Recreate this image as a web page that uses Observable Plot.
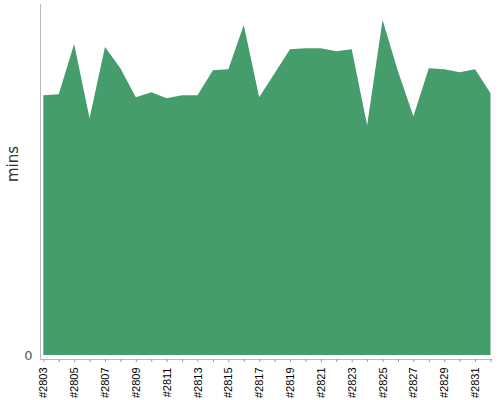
<!DOCTYPE html>
<html><head><meta charset="utf-8">
<script src="https://cdn.jsdelivr.net/npm/d3@7"></script>
<script src="https://cdn.jsdelivr.net/npm/@observablehq/plot@0.6"></script>
<style>body{margin:0;background:#fff;font-family:"DejaVu Sans",sans-serif}</style>
</head><body><div id="chart"></div>
<script>
const builds = ["#2803","#2804","#2805","#2806","#2807","#2808","#2809","#2810","#2811","#2812","#2813","#2814","#2815","#2816","#2817","#2818","#2819","#2820","#2821","#2822","#2823","#2824","#2825","#2826","#2827","#2828","#2829","#2830","#2831","#2832"];
const mins = [25.9,26.0,31.0,23.6,30.7,28.6,25.7,26.2,25.6,25.9,25.9,28.4,28.5,32.9,25.7,28.1,30.5,30.6,30.6,30.3,30.5,22.9,33.4,28.3,23.8,28.6,28.5,28.2,28.5,26.1];
const yMax = 35;
const data = builds.map((b, i) => ({build: b, mins: mins[i]}));
const labelled = builds.filter((b, i) => i % 2 === 0);

const chart = Plot.plot({
  width: 500, height: 400,
  marginTop: 4, marginLeft: 40, marginRight: 9, marginBottom: 41,
  style: {fontFamily: "DejaVu Sans, sans-serif", fontSize: "10px", color: "#000"},
  x: {type: "point", domain: builds, padding: 0, round: false, insetLeft: 3.3, insetRight: 0.5},
  y: {domain: [0, yMax], insetBottom: 4},
  marks: [
    Plot.areaY(data, {x: "build", y: "mins", fill: "#459d6c", curve: "linear"}),
    Plot.frame({anchor: "left", stroke: "#bbb"}),
    Plot.frame({anchor: "bottom", stroke: "#bbb"}),
    Plot.axisX({ticks: builds, tickSize: 3, stroke: "#999", tickFormat: () => "", label: null}),
    Plot.axisX({ticks: labelled, tickSize: 0, tickPadding: 8, tickRotate: -90, fontSize: 11, fontFamily: "Liberation Sans, Arial, sans-serif", fill: "#000", label: null}),
    Plot.axisY({ticks: [0], tickSize: 0, tickPadding: 8, fontSize: 13, fill: "#555", label: null}),
    Plot.text(["mins"], {frameAnchor: "left", dx: -27, rotate: -90, fontSize: 15, fill: "#333"})
  ]
});
document.getElementById("chart").append(chart);
</script>
</body></html>
